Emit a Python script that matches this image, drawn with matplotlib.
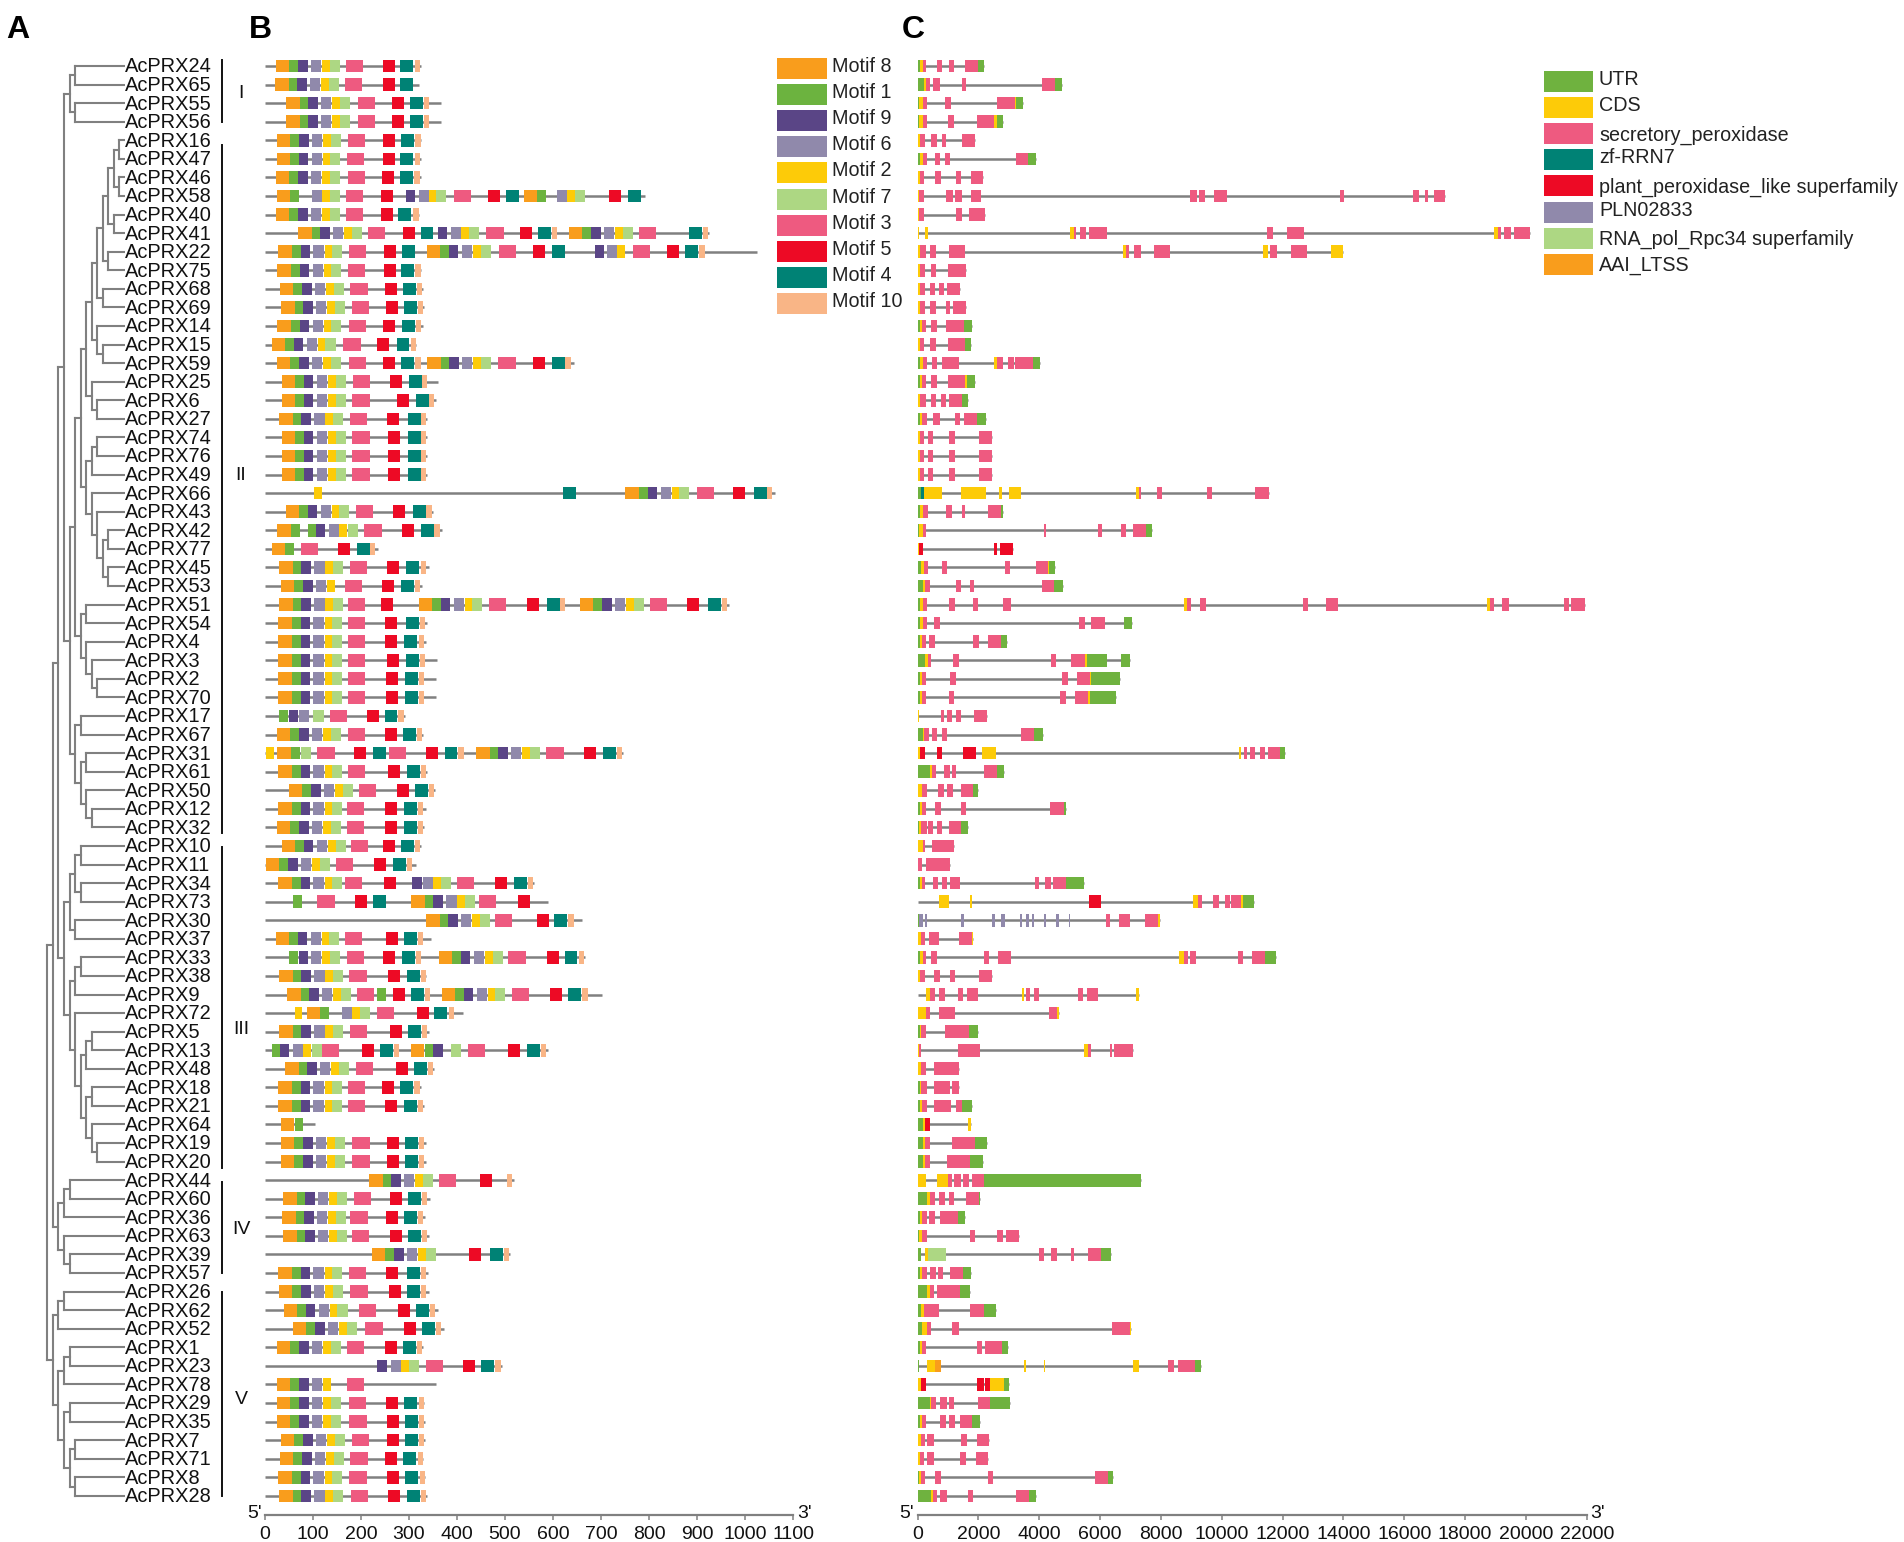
import matplotlib
matplotlib.use("Agg")
import matplotlib.pyplot as plt
from matplotlib.patches import Rectangle

plt.rcParams['font.family'] = ['Liberation Sans', 'DejaVu Sans']

W, H = 1904, 1542
ROW0_PX, ROW_PX = 66.0, 18.57
AXIS_PX = 1515.0

GENE_NAMES = [24,65,55,56,16,47,46,58,40,41,22,75,68,69,14,15,59,25,6,27,74,76,49,66,43,42,77,45,53,51,
              54,4,3,2,70,17,67,31,61,50,12,32,10,11,34,73,30,37,33,38,9,72,5,13,48,18,21,64,19,20,
              44,60,36,63,39,57,26,62,52,1,23,78,29,35,7,71,8,28]
GENE_NAMES = [f"AcPRX{n}" for n in GENE_NAMES]

# Phylogeny: nested clades of row indices
CLADE_I = [[0,1],[2,3]]
CLADE_N7A = [[[[[[[4,5],[6,7]],[8,9]],[10,11]],[12,13]],[14,[15,16]]],[17,[18,19]]]
CLADE_N7B = [[[20,21],22],[23,[24,[[25,26],[27,28]]]]]
CLADE_N6B = [[29,30],[31,[32,[33,34]]]]
CLADE_N5L = [[35,36],[[37,38],[39,[40,41]]]]
CLADE_A2 = [[[[42,43],[44,45]],[46,47]],[[[48,49],50],[51,[[[52,53],54],[[55,56],[57,[58,59]]]]]]]
CLADE_B = [[[60,61],62],[63,[64,65]]]
CLADE_LOWER = [[[66,67],68],[[[69,70],71],[[72,73],[[74,75],[76,77]]]]]
TREE = [[[[CLADE_I,[[[CLADE_N7A,CLADE_N7B],CLADE_N6B],CLADE_N5L]],CLADE_A2],CLADE_B],CLADE_LOWER]

MOTIF_LABELS = ["Motif 8","Motif 1","Motif 9","Motif 6","Motif 2","Motif 7","Motif 3","Motif 5","Motif 4","Motif 10"]
MOTIF_IDS = [8,1,9,6,2,7,3,5,4,10]
MOTIF_COLORS = ["#F99D1C","#6CB33F","#5A4586","#9089AB","#FDCB08","#ADD783","#EE5A80","#ED0A25","#008275","#F9B586"]
MOTIF_WIDTH = {8:28,1:18,9:20,6:21,2:16,7:21,3:36,5:25,4:27,10:11}
BLOCK_MOTIFS = [8,1,9,6,2,7]
BLOCK_OFFSETS = [0,28,46,73,96,112]

def N(s, skip=()):
    return [(m, s+o) for m, o in zip(BLOCK_MOTIFS, BLOCK_OFFSETS) if m not in skip]

def T(a, b, c, d):
    return [(3,a),(5,b),(4,c),(10,d)]

PROTEIN_LENGTHS = [325,321,366,366,326,325,324,792,321,924,1025,326,329,332,329,315,643,360,356,338,338,338,338,1062,351,
                   368,235,341,327,966,337,335,358,357,357,292,330,746,338,354,336,332,326,314,560,590,661,345,666,336,702,412,
                   342,589,353,324,332,104,335,335,519,344,333,342,511,339,342,360,372,330,493,356,332,333,333,330,334,337]

MOTIF_HITS = [
 N(23)+T(169,245,282,312),
 N(21)+[(3,167),(5,245),(4,282)],
 N(44)+T(193,264,302,331),
 N(44)+T(193,264,302,331),
 N(25)+T(172,246,284,313),
 N(24)+T(171,245,282,312),
 N(23)+T(172,244,281,311),
 [(8,25),(1,53),(6,97),(2,119),(7,135),(3,169),(5,241),(9,293),(6,320),(2,341),(7,357),(3,393),(5,464),(4,502),(8,539),(1,567),(6,609),(2,630),(7,645),(5,717),(4,756)],
 N(23)+T(169,241,278,309),
 N(69)+[(3,214),(5,287),(4,324),(9,360),(6,387),(2,408),(7,425),(3,461),(5,532),(4,569),(10,598)]+N(633)+[(3,779),(4,883),(10,912)],
 N(28)+[(3,175),(5,248),(4,286)]+N(337)+[(3,487),(5,559),(4,597),(9,687),(6,713),(2,733),(3,766),(5,838),(4,876),(10,905)],
 N(26)+T(173,247,284,313),
 N(31)+T(178,249,287,316),
 N(34)+T(181,253,290,319),
 N(26)+T(175,246,286,314),
 N(14)+T(163,234,274,304),
 N(25)+T(174,245,284,313)+N(338)+T(486,558,598,626),
 N(35)+T(183,260,300,327),
 N(35)+T(182,274,315,342),
 N(30)+T(177,255,297,324),
 N(35)+T(182,257,298,325),
 N(35)+T(182,257,298,325),
 N(35)+T(182,257,298,325),
 [(2,103),(4,620)]+N(751)+T(899,975,1018,1046),
 N(43)+T(190,267,308,336),
 [(8,26),(1,54),(1,89),(9,106),(6,133),(2,154),(7,172)]+T(207,286,325,353),
 [(8,15),(1,42),(3,74),(5,152),(4,191),(10,219)],
 N(30)+T(177,254,294,324),
 N(33,skip=(7,))+T(166,244,283,312),
 N(30)+[(3,173),(5,241)]+N(320)+T(466,545,587,615)+N(656)+T(802,880,922,952),
 N(28)+T(173,251,293,322),
 N(28)+T(173,251,290,320),
 N(28)+T(173,254,294,323),
 N(28)+T(173,252,292,321),
 N(28)+T(173,252,292,321),
 [(1,30),(9,49),(6,71),(7,101)]+T(135,213,249,278),
 N(25)+T(173,251,288,316),
 [(2,2),(8,26),(1,54),(7,74),(3,109),(5,185),(4,225),(3,258),(5,335),(4,374),(10,403)]+N(440)+T(586,664,704,733),
 N(28)+T(173,256,295,324),
 N(50)+T(196,274,313,342),
 N(28)+T(171,251,290,319),
 N(25)+T(170,249,289,319),
 N(35)+T(179,245,283,312),
 N(2)+T(147,228,266,295),
 N(28)+[(3,167),(5,248),(9,307),(6,329),(2,350),(7,367),(3,400),(5,480),(4,518),(10,548)],
 [(1,59),(3,109),(5,188),(4,225)]+N(305)+[(3,446),(5,527)],
 N(336)+T(479,566,603,632),
 N(22)+T(166,252,289,318),
 [(1,51),(9,70),(6,95),(2,119),(7,136)]+T(170,246,285,314)+N(362)+T(507,587,624,654),
 N(30)+T(176,256,295,324),
 N(46)+[(3,192),(1,234),(5,266),(4,304),(10,333)]+N(368)+T(514,594,632,661),
 [(2,62),(8,87),(1,115),(6,160),(2,181),(7,198)]+T(233,316,353,383),
 N(30)+T(177,260,298,327),
 [(1,14),(9,31),(6,59),(2,80),(7,97)]+T(118,202,240,268)+[(8,304),(1,333),(9,351),(7,388)]+T(423,507,545,574),
 N(42)+T(190,273,310,339),
 N(28)+T(173,244,281,311),
 N(28)+T(173,251,289,319),
 [(8,33),(1,62)],
 N(33)+T(182,254,292,321),
 N(33)+T(182,254,292,321),
 N(217)+[(3,362),(5,448),(10,504)],
 N(38)+T(185,260,298,327),
 N(36)+T(178,253,290,319),
 N(38)+T(181,260,298,327),
 N(223)+[(5,426),(4,469),(10,498)],
 N(28)+T(174,253,295,324),
 N(29)+T(178,258,295,324),
 N(39)+T(196,277,315,344),
 N(58)+T(209,289,327,356),
 N(25)+T(171,249,288,317),
 [(9,234),(6,263),(2,283),(7,299)]+T(335,413,451,480),
 N(25,skip=(7,))+[(3,170)],
 N(25)+T(175,253,290,320),
 N(25)+T(176,254,292,321),
 N(33)+T(181,254,292,321),
 N(31)+T(178,251,288,318),
 N(28)+T(176,254,292,322),
 N(30)+T(179,257,295,324),
]

GENE_KINDS = ["U","C","S","Z","P","L","R","A"]
GENE_LABELS = ["UTR","CDS","secretory_peroxidase","zf-RRN7","plant_peroxidase_like superfamily","PLN02833","RNA_pol_Rpc34 superfamily","AAI_LTSS"]
GENE_COLORS = ["#6FB23F","#FDCB08","#EE5A80","#008275","#ED0A25","#9089AB","#ADD783","#F99D1C"]

# one string per gene: kind start-end (bp)
GENE_SEGMENTS = [
 "U0-80 C80-170 S170-290 S630-820 S1030-1200 S1570-2000 U2000-2200",
 "U0-200 C200-290 S290-400 S500-730 S1450-1600 S4090-4510 U4510-4760",
 "U0-60 C60-170 S170-310 S900-1110 S2630-3190 C3190-3250 U3250-3470",
 "U0-60 C60-170 S170-300 S1000-1200 S1970-2520 C2520-2600 U2600-2800",
 "C0-80 S80-240 S460-650 S810-950 S1450-1880",
 "U0-80 C80-170 S170-300 S580-750 S900-1070 S3230-3640 U3640-3900",
 "C0-80 S80-230 S570-760 S1250-1430 S1750-2150",
 "C0-60 S60-200 S945-1175 S1240-1450 S1760-2080 S8950-9180 S9270-9440 S9750-10170 S13900-14030 S16290-16500 S16690-16790 S16980-17340",
 "C0-60 S60-230 S1270-1470 S1680-2230",
 "C0-60 C250-360 C5020-5140 S5140-5200 S5350-5540 S5650-6230 S11490-11700 S12160-12710 C18960-19090 S19090-19190 S19290-19520 S19610-20150",
 "C0-70 S70-270 S420-610 S1030-1550 C6750-6850 S6850-6950 S7130-7360 S7780-8300 C11360-11520 S11600-11810 S12290-12790 C13610-13990",
 "C0-70 S70-250 S440-620 S1000-1600",
 "C0-70 S70-240 S400-560 S700-860 S960-1400",
 "C0-70 S70-240 S420-600 S930-1060 S1170-1600",
 "U0-80 C80-150 S150-290 S460-640 S950-1540 U1540-1800",
 "C0-80 S80-220 S420-620 S1000-1570 U1570-1770",
 "U0-80 C80-170 S170-300 S480-630 S800-1380 C2500-2600 S2600-2800 S2980-3180 S3210-3800 U3800-4040",
 "U0-70 C70-160 S160-290 S460-640 S990-1560 C1560-1620 U1620-1880",
 "C0-70 S70-270 S460-610 S760-950 S1050-1470 U1470-1650",
 "U0-70 C70-160 S160-300 S520-730 S1240-1410 S1530-1950 U1950-2240",
 "C0-70 S70-210 S360-520 S1050-1220 S2030-2450",
 "C0-70 S70-210 S360-520 S1050-1220 S2030-2450",
 "C0-70 S70-210 S360-520 S1050-1220 S2030-2450",
 "U0-100 Z100-210 C210-800 C1430-2260 C2680-2790 C3000-3400 C7170-7280 S7280-7360 S7860-8050 S9520-9690 S11110-11570",
 "U0-70 C70-170 S170-340 S940-1150 S1450-1560 S2320-2750 U2750-2800",
 "U0-60 C60-170 S170-280 S4150-4220 S5950-6060 S6700-6840 S7090-7510 U7510-7720",
 "C0-50 P50-170 P2500-2620 P2720-3150",
 "U0-100 C100-200 S200-350 S790-980 S2880-3040 S3880-4290 C4290-4330 U4330-4520",
 "U0-170 C170-260 S260-400 S1250-1440 S1730-1870 S4090-4500 U4500-4780",
 "U0-70 C70-170 S170-310 S1030-1220 S1820-2000 S2810-3070 C8750-8850 S8850-9000 S9300-9480 S12660-12830 S13420-13830 C18710-18820 S18820-18960 S19230-19430 S21260-21430 S21500-21960",
 "U0-80 C80-170 S170-300 S540-730 S5320-5500 S5720-6160 U6780-7060",
 "U0-70 C70-150 S150-270 S380-570 S1840-2010 S2320-2750 U2750-2950",
 "U0-240 C240-330 S330-440 S1180-1370 S4380-4540 S5060-5500 C5500-5560 U5560-6240 U6690-6980",
 "U0-70 C70-150 S150-280 S1060-1250 S4760-4940 S5250-5660 C5660-5720 U5720-6670",
 "U0-70 C70-150 S150-280 S1030-1210 S4700-4880 S5190-5620 C5620-5680 U5680-6540",
 "C0-40 S760-870 S970-1130 S1280-1440 S1870-2280",
 "U0-170 C170-230 S230-380 S470-650 S810-960 S3410-3820 U3820-4130",
 "C0-90 P90-240 P630-810 P1500-1910 C2120-2570 C10570-10640 S10720-10830 S10940-11110 S11260-11410 S11510-11920 U11920-12070",
 "U0-400 C400-480 S480-600 S870-1060 S1120-1280 S2190-2600 U2600-2860",
 "C0-160 S160-310 S690-870 S980-1160 S1430-1820 U1820-1980",
 "U0-70 C70-150 S150-280 S590-760 S1430-1590 S4370-4810 U4810-4870",
 "U0-60 C60-130 S130-300 S340-510 S630-810 S1030-1440 U1440-1670",
 "C0-170 S170-260 S490-1200",
 "S0-150 S290-1070",
 "U0-70 C70-160 S160-260 S500-690 S810-970 S1060-1400 S3850-4010 S4200-4380 S4470-4870 U4870-5470",
 "C0-30 C700-1030 C1730-1790 P5640-6030 C9070-9220 S9220-9360 S9720-9910 S10100-10260 S10320-10640 C10640-10700 U10700-11070",
 "U0-60 L60-180 L250-320 L1430-1540 L2450-2560 L2760-2870 L3370-3450 L3570-3660 L3750-3840 L4150-4230 L4540-4660 L4970-5000 S6200-6340 S6620-6980 S7480-7920 C7920-7980",
 "C0-100 S100-250 S370-720 S1350-1790 C1790-1840",
 "U0-70 C70-170 S170-280 S440-650 S2190-2350 S2660-3060 C8610-8760 S8760-8880 S8970-9160 S10530-10700 S11000-11410 U11410-11790",
 "C0-90 S90-240 S540-730 S1070-1230 S2010-2450",
 "C0-30 C290-410 S410-570 S700-910 S1340-1500 S1620-2000 C3430-3510 S3560-3700 S3820-4000 S5280-5440 S5570-5950 C7190-7290",
 "C0-280 S280-400 S700-1220 S4320-4600 C4600-4660",
 "U0-70 C70-130 S130-280 S910-1700 U1700-1980",
 "C0-50 S50-130 S1340-2070 C5480-5590 S5590-5720 S6340-6390 S6450-7070",
 "C0-130 S130-280 S540-1370",
 "U0-70 C70-130 S130-300 S540-1060 S1130-1380",
 "U0-70 C70-160 S160-320 S540-1090 S1250-1460 U1460-1800",
 "U0-170 C170-260 P260-410 C1660-1750",
 "U0-170 C170-250 S250-410 S1120-1880 U1880-2280",
 "U0-170 C170-250 S250-410 S980-1730 U1730-2160",
 "C0-290 C630-1010 S1010-1130 S1210-1430 S1500-1690 S1790-2190 U2190-7360",
 "U0-320 C320-400 S400-560 S700-900 S1030-1200 S1600-2010 U2010-2060",
 "U0-70 C70-160 S160-300 S380-570 S730-1320 U1320-1570",
 "U0-40 C40-160 S160-300 S1710-1900 S2630-2810 S2910-3340",
 "U0-120 C260-330 R330-930 S4000-4160 S4400-4570 S5030-5130 S5600-6030 U6030-6350",
 "U0-70 C70-150 S150-300 S410-600 S690-850 S1070-1480 U1480-1760",
 "U0-320 C320-400 S400-550 S650-1410 U1410-1710",
 "U0-100 C100-230 S230-720 S1710-2180 U2180-2570",
 "U0-140 C140-320 S320-440 S1130-1350 S6390-6980 C6980-7020",
 "U0-70 C70-140 S140-280 S1940-2130 S2210-2790 U2790-2970",
 "U0-40 C310-560 A560-780 C3510-3570 C4150-4200 C7090-7290 S8230-8420 S8560-9110 U9110-9320",
 "C0-100 P100-280 P1940-2180 P2220-2380 C2380-2850 U2850-3000",
 "U0-410 C410-450 S450-620 S750-960 S1040-1210 S2000-2380 U2380-3040",
 "U0-70 C70-150 S150-290 S730-940 S1040-1220 S1400-1790 U1790-2060",
 "C0-100 S100-240 S320-540 S1430-1620 S1940-2340",
 "C0-90 S90-220 S320-530 S1410-1600 S1910-2320",
 "U0-60 C60-130 S130-260 S570-780 S2310-2470 S5850-6250 U6250-6440",
 "U0-430 C430-500 S500-650 S750-960 S1650-1840 S3250-3660 U3660-3880",
]

GROUP_LABELS = ["I","II","III","IV","V"]
GROUP_BAR_PX = [(60,122),(145,833),(847,1168),(1182,1273),(1292,1496)]
GROUP_LABEL_Y = [93,475,1030,1230,1399]

MOTIF_TICKS = list(range(0,1101,100))
GENE_TICKS = list(range(0,22001,2000))

GRAY = "#808080"
BOX_H = 0.68

fig = plt.figure(figsize=(W/100, H/100), dpi=100)

def make_axes(left, right, top, bottom):
    return fig.add_axes([left/W, 1-bottom/H, (right-left)/W, (bottom-top)/H])

ROW_TOP = (40-ROW0_PX)/ROW_PX
ROW_BOT = (AXIS_PX-ROW0_PX)/ROW_PX

# ---- Panel A: tree -------------------------------------------------
LEVEL_PX = 5.55
ax_t = make_axes(40, 125, 40, AXIS_PX)
ax_t.set_xlim(14-(125-40)/LEVEL_PX, 14)
ax_t.set_ylim(ROW_BOT, ROW_TOP)
ax_t.axis("off")

def draw(node, level):
    if isinstance(node, int):
        return node, 14
    ys = [draw(c, level+1) for c in node]
    rows = [y for y, _ in ys]
    for y, xe in ys:
        ax_t.plot([level, xe], [y, y], color=GRAY, lw=1.5, solid_capstyle="projecting")
    ax_t.plot([level, level], [min(rows), max(rows)], color=GRAY, lw=1.5, solid_capstyle="projecting")
    return (min(rows)+max(rows))/2, level

draw(TREE, 0)
for i, name in enumerate(GENE_NAMES):
    ax_t.text(14.05, i+0.05, name, fontsize=14.4, va="center", ha="left", color="#111111", clip_on=False)

# ---- Panel B: motifs ------------------------------------------------
ax_b = make_axes(265, 793, 40, AXIS_PX)
ax_b.set_xlim(0, 1100)
ax_b.set_ylim(ROW_BOT, ROW_TOP)
col_m = dict(zip(MOTIF_IDS, MOTIF_COLORS))
for i, (length, hits) in enumerate(zip(PROTEIN_LENGTHS, MOTIF_HITS)):
    ax_b.plot([0, length], [i, i], color=GRAY, lw=1.8, solid_capstyle="butt", zorder=1)
    for m, s in hits:
        ax_b.barh(i, MOTIF_WIDTH[m], left=s, height=BOX_H, color=col_m[m], zorder=2, linewidth=0)

# ---- Panel C: gene structures ----------------------------------------
ax_c = make_axes(917.5, 1586.7, 40, AXIS_PX)
ax_c.set_xlim(0, 22000)
ax_c.set_ylim(ROW_BOT, ROW_TOP)
col_g = dict(zip(GENE_KINDS, GENE_COLORS))
for i, spec in enumerate(GENE_SEGMENTS):
    segs = []
    for tok in spec.split():
        a, b = tok[1:].split("-")
        segs.append((tok[0], int(a), int(b)))
    ax_c.plot([0, max(s[2] for s in segs)], [i, i], color=GRAY, lw=1.8, solid_capstyle="butt", zorder=1)
    for k, a, b in segs:
        ax_c.barh(i, b-a, left=a, height=BOX_H, color=col_g[k], zorder=2, linewidth=0)

for ax, ticks in ((ax_b, MOTIF_TICKS), (ax_c, GENE_TICKS)):
    for s in ("top", "left", "right"):
        ax.spines[s].set_visible(False)
    ax.spines["bottom"].set_color(GRAY)
    ax.spines["bottom"].set_linewidth(1.6)
    ax.set_yticks([])
    ax.set_xticks(ticks)
    ax.tick_params(axis="x", length=3.8, width=1.1, color=GRAY, labelsize=14, pad=4.2, labelcolor="#111111")
    ax.patch.set_alpha(0)

# ---- Overlay: legends, panel letters, clade marks --------------------
ov = fig.add_axes([0, 0, 1, 1], zorder=5)
ov.set_xlim(0, W)
ov.set_ylim(H, 0)
ov.axis("off")

for t, x in (("A", 6), ("B", 249), ("C", 902)):
    ov.text(x, 38, t, fontsize=23, fontweight="bold", ha="left", va="baseline", color="black")
for t, x in (("5'", 255), ("3'", 805)):
    ov.text(x, 1514, t, fontsize=14, ha="center", va="center", color="#111111")
for t, x in (("5'", 907), ("3'", 1598)):
    ov.text(x, 1514, t, fontsize=14, ha="center", va="center", color="#111111")

for (y0, y1), lab, ly in zip(GROUP_BAR_PX, GROUP_LABELS, GROUP_LABEL_Y):
    ov.plot([222, 222], [y0, y1], color="#111111", lw=1.4)
    ov.text(241, ly, lab, fontsize=14, ha="center", va="center", color="#111111")

for i, (lab, c) in enumerate(zip(MOTIF_LABELS, MOTIF_COLORS)):
    y = 58+26.12*i
    ov.add_patch(Rectangle((777, y), 50, 21, facecolor=c, edgecolor="none"))
    ov.text(832, y+8.5, lab, fontsize=14.25, ha="left", va="center", color="#222222")

GENE_LEGEND_TEXT_DY = [8.5, 8.5, 12, 8.5, 12, 8.5, 12, 12]
for i, (lab, c, dy) in enumerate(zip(GENE_LABELS, GENE_COLORS, GENE_LEGEND_TEXT_DY)):
    y = 71+26.12*i
    ov.add_patch(Rectangle((1543.5, y), 49.5, 21, facecolor=c, edgecolor="none"))
    ov.text(1599, y+dy, lab, fontsize=14.25, ha="left", va="center", color="#222222")

fig.savefig("out.png", dpi=100, facecolor="white")
